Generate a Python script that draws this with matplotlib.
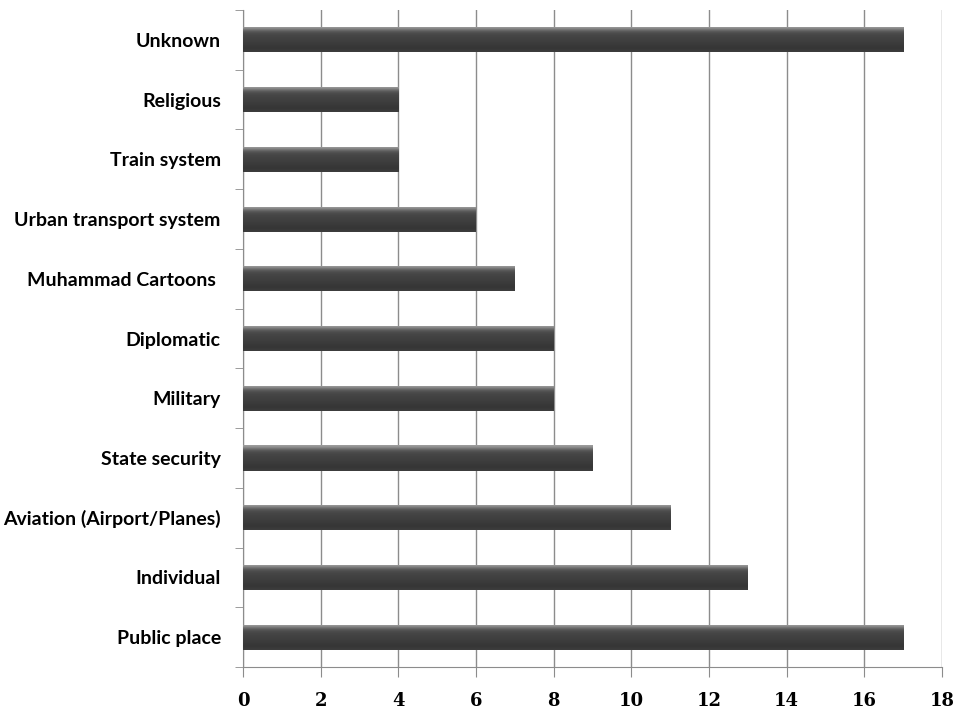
import numpy as np
import matplotlib.pyplot as plt

categories = ['Public place', 'Individual', 'Aviation (Airport/Planes)', 'State security',
              'Military', 'Diplomatic', 'Muhammad Cartoons ', 'Urban transport system',
              'Train system', 'Religious', 'Unknown']
counts = [17, 13, 11, 9, 8, 8, 7, 6, 4, 4, 17]

fig = plt.figure(figsize=(9.58, 7.14), dpi=100)
ax = fig.add_axes([0.2537, 0.0658, 0.7296, 0.9202])

ypos = np.arange(len(categories))
bar_h = 0.42

# vertical shading of each bar, top row first
shade = np.array([0.62, 0.48, 0.34, 0.29, 0.27, 0.26, 0.25, 0.24, 0.23, 0.22, 0.21, 0.24])
grad = np.repeat(shade[:, None], 2, axis=1)

bars = ax.barh(ypos, counts, height=bar_h, color='#3a3a3a', zorder=2)
for b in bars:
    x0, y0 = b.get_x(), b.get_y()
    w, h = b.get_width(), b.get_height()
    im = ax.imshow(grad, cmap='gray', vmin=0, vmax=1, aspect='auto',
                   extent=[x0, x0 + w, y0, y0 + h], origin='upper',
                   interpolation='bicubic', zorder=3)
    im.set_clip_path(b)

ax.set_xlim(0, 18)
ax.set_ylim(-0.5, len(categories) - 0.5)
ax.set_xticks(np.arange(0, 19, 2))
ax.set_xticklabels([str(v) for v in range(0, 19, 2)],
                   fontfamily='DejaVu Serif', fontweight='bold', fontsize=13)
ax.xaxis.grid(True, color='#8c8c8c', linewidth=1.0, zorder=0)
ax.set_axisbelow(True)

ax.set_yticks(ypos)
ax.set_yticklabels(categories, fontfamily='Lato', fontweight='bold', fontsize=14)
ax.tick_params(axis='y', length=0, pad=16)
ax.set_yticks(np.arange(-0.5, len(categories), 1), minor=True)
ax.tick_params(axis='y', which='minor', length=6, color='#8c8c8c', direction='out')
ax.tick_params(axis='x', length=7, color='#8c8c8c', direction='out', pad=11)

for s in ['top', 'right']:
    ax.spines[s].set_visible(False)
for s in ['left', 'bottom']:
    ax.spines[s].set_color('#8c8c8c')

fig.savefig('out.png', dpi=100)
